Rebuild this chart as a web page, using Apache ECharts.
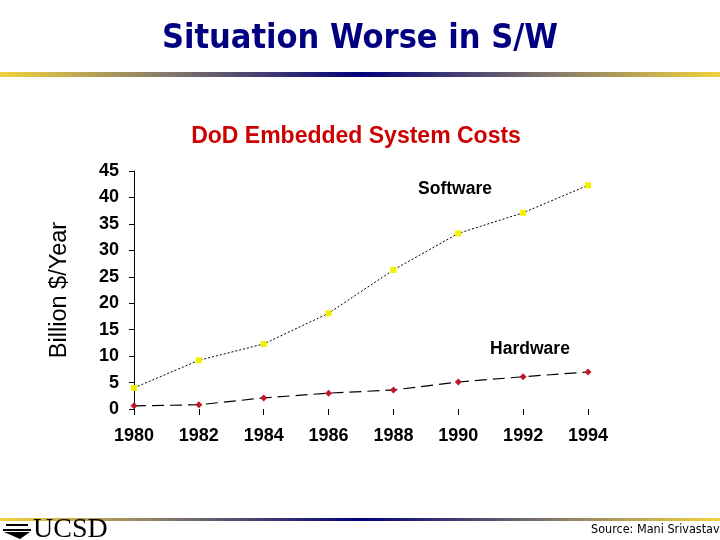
<!DOCTYPE html>
<html><head><meta charset="utf-8">
<script src="https://cdn.jsdelivr.net/npm/echarts@6/dist/echarts.min.js"></script>
<style>html,body{margin:0;padding:0;background:#fff}#c{width:720px;height:540px}</style>
</head><body><div id="c"></div>
<script>
const years = ['1980','1982','1984','1986','1988','1990','1992','1994'];
const software = [4, 9.2, 12.3, 18.1, 26.3, 33.2, 37.1, 42.3];
const hardware = [0.6, 0.8, 2.1, 3.0, 3.6, 5.1, 6.1, 7.0];
const yTicks = {min: 0, max: 45, interval: 5};

const chart = echarts.init(document.getElementById('c'), null, {renderer: 'canvas'});
const barGrad = {type: 'linear', x: 0, y: 0, x2: 1, y2: 0, colorStops: [
  {offset: 0, color: '#f4d23c'}, {offset: 0.22, color: '#8a7f6a'},
  {offset: 0.5, color: '#00007a'}, {offset: 0.78, color: '#8a7f6a'}, {offset: 1, color: '#f4d23c'}]};
chart.setOption({
  animation: false,
  backgroundColor: '#fff',
  title: [{
    text: 'Situation Worse in S/W', left: 'center', top: 17,
    textStyle: {fontFamily: 'DejaVu Sans Condensed', fontWeight: 'bold', fontSize: 34, color: '#000080'}
  }, {
    text: 'DoD Embedded System Costs', left: 351, textAlign: 'center', top: 120,
    textStyle: {fontFamily: 'Liberation Sans', fontWeight: 'bold', fontSize: 23, color: '#cc0000'}
  }],
  grid: {left: 134, right: 132, top: 171, bottom: 131},
  xAxis: {
    type: 'category', data: years, boundaryGap: false,
    axisLine: {show: false},
    axisTick: {show: true, alignWithLabel: true, length: 6, lineStyle: {color: '#000'}},
    axisLabel: {margin: 18, fontFamily: 'Liberation Sans', fontWeight: 'bold', fontSize: 18, color: '#000'},
    splitLine: {show: false}
  },
  yAxis: {
    type: 'value', min: yTicks.min, max: yTicks.max, interval: yTicks.interval,
    name: 'Billion $/Year', nameLocation: 'middle', nameGap: 62, nameRotate: 90,
    nameTextStyle: {fontFamily: 'Liberation Sans', fontSize: 23.5, color: '#000'},
    axisLine: {show: true, lineStyle: {color: '#000', width: 1}},
    axisTick: {show: true, length: 5, lineStyle: {color: '#000'}},
    axisLabel: {margin: 15, fontFamily: 'Liberation Sans', fontWeight: 'bold', fontSize: 18, color: '#000'},
    splitLine: {show: false}
  },
  series: [{
    name: 'Software', type: 'line', data: software,
    symbol: 'rect', symbolSize: 6,
    itemStyle: {color: '#f2f200'},
    lineStyle: {color: '#000', width: 1, type: [2, 2]},
    z: 3
  }, {
    name: 'Hardware', type: 'line', data: hardware,
    symbol: 'diamond', symbolSize: 7,
    itemStyle: {color: '#c01828'},
    lineStyle: {color: '#000', width: 1.2, type: [12, 6]},
    z: 3
  }],
  graphic: [
    {type: 'rect', left: 0, top: 72, shape: {width: 720, height: 5}, style: {fill: barGrad}},
    {type: 'rect', left: 0, top: 518, shape: {width: 720, height: 3}, style: {fill: barGrad}},
    {type: 'text', x: 455, y: 189, style: {text: 'Software', font: 'bold 17.5px "Liberation Sans"', fill: '#000', align: 'center', verticalAlign: 'middle'}},
    {type: 'text', x: 530, y: 349, style: {text: 'Hardware', font: 'bold 17.5px "Liberation Sans"', fill: '#000', align: 'center', verticalAlign: 'middle'}},
    {type: 'text', x: 33, y: 530, style: {text: 'UCSD', font: '28px "Liberation Serif"', fill: '#000', verticalAlign: 'middle'}},
    {type: 'rect', left: 6, top: 524, shape: {width: 22, height: 2}, style: {fill: '#000'}},
    {type: 'rect', left: 3, top: 529, shape: {width: 28, height: 2}, style: {fill: '#000'}},
    {type: 'polygon', shape: {points: [[4, 532], [30, 532], [20, 539]]}, style: {fill: '#000'}},
    {type: 'text', x: 591, y: 530, style: {text: 'Source: Mani Srivastava', font: '12.5px "DejaVu Sans Condensed"', fill: '#000', verticalAlign: 'middle'}}
  ]
});
</script></body></html>
